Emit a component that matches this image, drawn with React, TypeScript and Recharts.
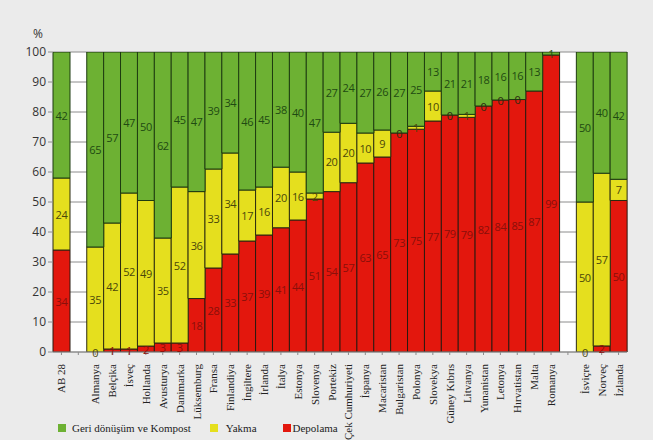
import React from "react";
import { BarChart, Bar, XAxis, YAxis, CartesianGrid, LabelList } from "recharts";

const categories = [
  "AB 28", "gap1",
  "Almanya", "Belçika", "İsveç", "Hollanda", "Avusturya", "Danimarka", "Lüksemburg",
  "Fransa", "Finlandiya", "İngiltere", "İrlanda", "İtalya", "Estonya", "Slovenya",
  "Portekiz", "Çek Cumhuriyeti", "İspanya", "Macaristan", "Bulgaristan", "Polonya",
  "Slovekya", "Güney Kıbrıs", "Litvanya", "Yunanistan", "Letonya", "Hırvatistan",
  "Malta", "Romanya", "gap2",
  "İsviçre", "Norveç", "İzlanda",
];

const depolama = [
  34, null,
  0, 1, 1, 2, 3, 3, 18, 28, 33, 37, 39, 41, 44, 51, 54, 57, 63, 65, 73, 75, 77, 79, 79, 82, 84, 85, 87, 99,
  null,
  0, 2, 50,
];

const yakma = [
  24, null,
  35, 42, 52, 49, 35, 52, 36, 33, 34, 17, 16, 20, 16, 2, 20, 20, 10, 9, 0, 1, 10, 0, 1, 0, 0, 0, null, null,
  null,
  50, 57, 7,
];

const geri = [
  42, null,
  65, 57, 47, 50, 62, 45, 47, 39, 34, 46, 45, 38, 40, 47, 27, 24, 27, 26, 27, 25, 13, 21, 21, 18, 16, 16, 13, 1,
  null,
  50, 40, 42,
];

const yTicks = [0, 0.1, 0.2, 0.3, 0.4, 0.5, 0.6, 0.7, 0.8, 0.9, 1];

const data = categories.map((c, i) => ({
  name: c,
  depolama: depolama[i],
  yakma: yakma[i],
  geri: geri[i],
}));

const GREEN = "#6db133";
const YELLOW = "#e5df1e";
const RED = "#e3170d";
const RED_TXT = "#8a0f0a";
const YEL_TXT = "#4a470a";
const GRN_TXT = "#1f4a12";

const txt = (key: string, x: number, y: number, color: string, value: any) => (
  <text
    key={key}
    x={x}
    y={y}
    textAnchor="middle"
    dominantBaseline="central"
    fontFamily="'Open Sans', sans-serif"
    fontSize={11}
    letterSpacing={-0.4}
    fill={color}
  >
    {value}
  </text>
);

// label entries only exist for bars with a non-null, non-zero value
const shownIdx = (arr: (number | null)[]) =>
  arr.map((v, i) => (v === null || v === 0 ? -1 : i)).filter((i) => i >= 0);

// self: this series; below: series stacked beneath, whose zero values are drawn at this bar's bottom edge
const makeLabel = (
  color: string,
  self: (number | null)[],
  below: (number | null)[] | null,
  belowColor: string
) => {
  const map = shownIdx(self);
  return (props: any) => {
    const { x, y, width, height, value } = props;
    let idx: number | undefined;
    const pl = props.payload;
    if (pl && typeof pl.name === "string") idx = categories.indexOf(pl.name);
    else if (props.index !== undefined) idx = map[props.index];
    const out: any[] = [];
    if (value !== null && value !== undefined && value !== 0) {
      out.push(txt("v", x + width / 2, y + height / 2, color, value));
    }
    if (below && idx !== undefined && below[idx] === 0) {
      out.push(txt("z", x + width / 2, y + height, belowColor, 0));
    }
    if (out.length === 0) return null;
    return <g>{out}</g>;
  };
};

const XTick = (props: any) => {
  const { x, y, payload } = props;
  const v = String(payload.value);
  if (v.startsWith("gap")) return null;
  return (
    <text
      x={x}
      y={y + 7}
      transform={`rotate(-90, ${x}, ${y + 7})`}
      textAnchor="end"
      dominantBaseline="central"
      fontFamily="'Liberation Serif', serif"
      fontSize={11}
      fill="#222"
    >
      {v}
    </text>
  );
};

export default function App() {
  return (
    <div
      style={{
        position: "absolute",
        left: 0,
        top: 0,
        width: 653,
        height: 440,
        background: "#ebebeb",
        overflow: "hidden",
      }}
    >
      <span
        style={{
          position: "absolute",
          left: 33,
          top: 25,
          fontFamily: "'Open Sans', sans-serif",
          fontSize: 12,
          color: "#333",
        }}
      >
        %
      </span>
      <BarChart
        width={653}
        height={440}
        data={data}
        margin={{ top: 52, right: 26, bottom: 0, left: 0 }}
        barCategoryGap={0}
        stackOffset="expand"
      >
        <CartesianGrid vertical={false} stroke="#8c8c8c" fill="#ffffff" />
        <XAxis
          dataKey="name"
          interval={0}
          height={88}
          tick={<XTick />}
          axisLine={{ stroke: "#8c8c8c" }}
          tickLine={{ stroke: "#8c8c8c" }}
          tickSize={3}
        />
        <YAxis
          width={53}
          domain={[0, 1]}
          ticks={yTicks}
          allowDataOverflow
          axisLine={false}
          tickLine={{ stroke: "#8c8c8c" }}
          tickSize={5}
          tickFormatter={(v: number) => String(Math.round(v * 100))}
          tick={{ fontSize: 12, fill: "#333", fontFamily: "'Open Sans', sans-serif" }}
        />
        <Bar dataKey="depolama" stackId="a" fill={RED} stroke="#2a1a10" strokeWidth={1} isAnimationActive={false}>
          <LabelList dataKey="depolama" content={makeLabel(RED_TXT, depolama, null, RED_TXT)} />
        </Bar>
        <Bar dataKey="yakma" stackId="a" fill={YELLOW} stroke="#2a2a10" strokeWidth={1} isAnimationActive={false}>
          <LabelList dataKey="yakma" content={makeLabel(YEL_TXT, yakma, depolama, YEL_TXT)} />
        </Bar>
        <Bar dataKey="geri" stackId="a" fill={GREEN} stroke="#1d3a10" strokeWidth={1} isAnimationActive={false}>
          <LabelList dataKey="geri" content={makeLabel(GRN_TXT, geri, yakma, "#2a2a10")} />
        </Bar>
      </BarChart>
      <div
        style={{
          position: "absolute",
          left: 58,
          top: 422,
          display: "flex",
          alignItems: "center",
          fontFamily: "'Liberation Serif', serif",
          fontSize: 11,
          color: "#222",
        }}
      >
        <span style={{ width: 8, height: 8, background: GREEN, display: "inline-block", marginRight: 6 }} />
        <span style={{ marginRight: 19 }}>Geri dönüşüm ve Kompost</span>
        <span style={{ width: 8, height: 8, background: YELLOW, display: "inline-block", marginRight: 8 }} />
        <span style={{ marginRight: 26 }}>Yakma</span>
        <span style={{ width: 8, height: 8, background: RED, display: "inline-block", marginRight: 2 }} />
        <span>Depolama</span>
      </div>
    </div>
  );
}
